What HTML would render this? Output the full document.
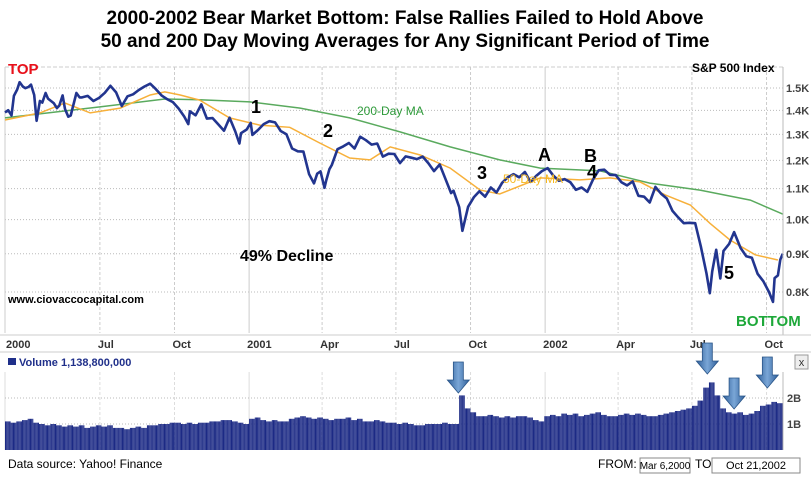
<!DOCTYPE html>
<html><head><meta charset="utf-8"><style>
html,body{margin:0;padding:0;background:#fff;}
body{width:811px;height:479px;overflow:hidden;font-family:"Liberation Sans",Arial,sans-serif;}
</style></head><body>
<svg id="c" width="811" height="479" xmlns="http://www.w3.org/2000/svg" font-family="Liberation Sans, Arial, sans-serif">
<defs>
<linearGradient id="ag" x1="0" x2="1" y1="0" y2="0"><stop offset="0" stop-color="#2f5f9a"/><stop offset="0.5" stop-color="#7aa6d6"/><stop offset="1" stop-color="#2f5f9a"/></linearGradient>
</defs>
<text x="405" y="24" text-anchor="middle" font-size="19" font-weight="bold">2000-2002 Bear Market Bottom:  False Rallies Failed to Hold Above</text>
<text x="405" y="47" text-anchor="middle" font-size="19" font-weight="bold">50 and 200 Day Moving Averages for Any Significant Period of Time</text>
<g id="grid"></g>
<g id="vol"></g>
<g id="lines"></g>
<g id="axes"></g>
<text x="8" y="74" font-size="15" font-weight="bold" fill="#e8101a">TOP</text>
<text x="692" y="72" font-size="12" font-weight="bold">S&amp;P 500 Index</text>
<g font-size="18" font-weight="bold">
<text x="251" y="113">1</text>
<text x="323" y="137">2</text>
<text x="477" y="179">3</text>
<text x="538" y="161">A</text>
<text x="584" y="162">B</text>
<text x="587" y="178">4</text>
<text x="724" y="279">5</text>
</g>
<text x="357" y="115" font-size="12" fill="#2e9a3a">200-Day MA</text>
<text x="503" y="183" font-size="12" fill="#f5b820">50-Day MA</text>
<text x="240" y="261" font-size="16" font-weight="bold">49% Decline</text>
<text x="8" y="303" font-size="11" font-weight="bold">www.ciovaccocapital.com</text>
<text x="736" y="326" font-size="15" font-weight="bold" fill="#1ea83a">BOTTOM</text>
<rect x="8" y="358" width="8" height="7" fill="#1f2f8a"/>
<text x="19" y="366" font-size="11" font-weight="bold" fill="#1f2f8a">Volume  1,138,800,000</text>
<g><rect x="795" y="355" width="13" height="14" fill="#eee" stroke="#999"/><text x="801.5" y="366" font-size="11" text-anchor="middle" fill="#333">x</text></g>
<g id="arrows"></g>
<text x="8" y="468" font-size="12">Data source:  Yahoo! Finance</text>
<text x="598" y="468" font-size="12">FROM:</text>
<g><rect x="640" y="458" width="50" height="15" fill="#fff" stroke="#888"/><text x="665" y="469" font-size="10" text-anchor="middle">Mar 6,2000</text></g>
<text x="695" y="468" font-size="12">TO:</text>
<g><rect x="712" y="458" width="88" height="15" fill="#fff" stroke="#888"/><text x="756" y="469" font-size="11" text-anchor="middle">Oct 21,2002</text></g>
</svg>
<script>
var priceDates=["2000-03-06","2000-03-10","2000-03-14","2000-03-17","2000-03-21","2000-03-24","2000-03-28","2000-03-31","2000-04-04","2000-04-07","2000-04-11","2000-04-14","2000-04-18","2000-04-21","2000-04-25","2000-04-28","2000-05-05","2000-05-09","2000-05-12","2000-05-16","2000-05-19","2000-05-23","2000-05-26","2000-06-02","2000-06-06","2000-06-09","2000-06-16","2000-06-23","2000-06-30","2000-07-07","2000-07-14","2000-07-21","2000-07-28","2000-08-04","2000-08-11","2000-08-18","2000-08-25","2000-09-01","2000-09-08","2000-09-15","2000-09-22","2000-09-29","2000-10-06","2000-10-13","2000-10-18","2000-10-20","2000-10-27","2000-11-03","2000-11-10","2000-11-17","2000-11-24","2000-12-01","2000-12-08","2000-12-15","2000-12-20","2000-12-22","2000-12-29","2001-01-03","2001-01-05","2001-01-12","2001-01-19","2001-01-26","2001-02-02","2001-02-09","2001-02-16","2001-02-23","2001-03-02","2001-03-09","2001-03-16","2001-03-22","2001-03-26","2001-03-30","2001-04-04","2001-04-06","2001-04-10","2001-04-13","2001-04-20","2001-04-27","2001-05-04","2001-05-11","2001-05-18","2001-05-25","2001-06-01","2001-06-08","2001-06-15","2001-06-22","2001-06-29","2001-07-06","2001-07-13","2001-07-20","2001-07-27","2001-08-03","2001-08-10","2001-08-17","2001-08-24","2001-08-31","2001-09-07","2001-09-10","2001-09-17","2001-09-21","2001-09-28","2001-10-05","2001-10-12","2001-10-19","2001-10-26","2001-11-02","2001-11-09","2001-11-16","2001-11-23","2001-11-30","2001-12-07","2001-12-14","2001-12-21","2001-12-28","2002-01-04","2002-01-11","2002-01-18","2002-01-25","2002-02-01","2002-02-08","2002-02-15","2002-02-22","2002-03-01","2002-03-08","2002-03-15","2002-03-22","2002-03-29","2002-04-05","2002-04-12","2002-04-19","2002-04-26","2002-05-03","2002-05-10","2002-05-17","2002-05-24","2002-05-31","2002-06-07","2002-06-14","2002-06-21","2002-06-28","2002-07-05","2002-07-12","2002-07-19","2002-07-23","2002-07-26","2002-07-31","2002-08-05","2002-08-09","2002-08-16","2002-08-22","2002-08-30","2002-09-06","2002-09-13","2002-09-20","2002-09-27","2002-10-04","2002-10-09","2002-10-11","2002-10-15","2002-10-18","2002-10-21"];
var priceValues=[1391,1401,1378,1464,1493,1527,1507,1499,1505,1516,1468,1356,1441,1434,1477,1452,1432,1410,1421,1466,1406,1373,1378,1477,1457,1457,1464,1441,1455,1478,1510,1480,1419,1462,1471,1491,1507,1520,1495,1466,1449,1436,1408,1374,1342,1396,1379,1426,1365,1367,1341,1315,1369,1312,1264,1305,1320,1347,1298,1318,1342,1354,1349,1314,1301,1245,1234,1233,1150,1118,1152,1160,1103,1128,1168,1183,1242,1253,1266,1245,1291,1277,1260,1264,1214,1225,1224,1190,1215,1210,1205,1214,1190,1161,1185,1134,1085,1093,1039,966,1040,1071,1091,1073,1104,1087,1120,1139,1150,1139,1158,1123,1144,1161,1172,1146,1127,1133,1122,1096,1104,1089,1131,1164,1166,1148,1147,1122,1111,1125,1076,1073,1054,1106,1083,1067,1027,1007,989,990,989,921,847,797,852,911,834,908,928,962,916,893,889,846,827,800,776,835,842,884,900];
var ma50Days=[0,43,74,105,142,179,197,216,240,277,314,351,388,425,450,475,512,549,586,610,660,709,746,783,814,845,869,894,925,953];
var ma50Values=[1359,1389,1432,1389,1410,1468,1482,1468,1445,1368,1338,1329,1266,1209,1202,1251,1220,1172,1095,1082,1137,1130,1137,1123,1079,1046,989,939,897,883];
var ma200Days=[0,117,197,240,302,364,425,487,549,610,660,734,795,857,919,959];
var ma200Values=[1368,1415,1450,1447,1437,1410,1368,1310,1251,1202,1172,1162,1119,1095,1062,1017];
var volumeStart="2000-03-06";
var volumeValues=[1.1,1.05,1.1,1.15,1.2,1.05,1.0,0.95,1.0,0.95,0.9,0.95,0.9,0.95,0.85,0.9,0.95,0.9,0.95,0.85,0.85,0.8,0.85,0.9,0.85,0.95,0.95,1.0,1.0,1.05,1.05,1.0,1.05,1.0,1.05,1.05,1.1,1.1,1.15,1.15,1.1,1.05,1.0,
1.2,1.25,1.15,1.1,1.15,1.1,1.1,1.2,1.25,1.3,1.25,1.2,1.25,1.2,1.15,1.2,1.2,1.25,1.15,1.2,1.1,1.1,1.15,1.1,1.05,1.05,1.0,1.05,1.0,0.95,0.95,1.0,1.0,1.0,1.05,1.0,1.0,2.1,1.6,1.45,1.3,1.3,1.35,1.3,1.25,1.3,1.25,1.3,1.3,1.25,1.15,1.1,
1.3,1.35,1.3,1.4,1.35,1.4,1.3,1.35,1.4,1.45,1.35,1.3,1.3,1.35,1.4,1.35,1.4,1.35,1.3,1.3,1.35,1.4,1.45,1.5,1.55,1.6,1.7,1.9,2.4,2.6,2.1,1.6,1.45,1.4,1.45,1.35,1.4,1.5,1.7,1.75,1.85,1.8,1.75];
var priceTicks=[1500,1400,1300,1200,1100,1000,900,800];
var priceTickLabels=["1.5K","1.4K","1.3K","1.2K","1.1K","1.0K","0.9K","0.8K"];
var monthTicks=["2000-03-06","2000-07-01","2000-10-01","2001-01-01","2001-04-01","2001-07-01","2001-10-01","2002-01-01","2002-04-01","2002-07-01","2002-10-01"];
var monthLabels=["2000","Jul","Oct","2001","Apr","Jul","Oct","2002","Apr","Jul","Oct"];
var volTicks=[2,1];
var volTickLabels=["2B","1B"];
var arrowDates=["2001-09-16","2002-07-20","2002-08-22","2002-10-02"];
var arrowTops=[362,343,378,357];

var NS="http://www.w3.org/2000/svg";
var T0=Date.UTC(2000,2,6);
function day(s){var p=s.split("-");return (Date.UTC(+p[0],+p[1]-1,+p[2])-T0)/86400000;}
function X(d){return 5+d*0.811;}
function Y(v){return 88+324.5*Math.log(1500/v);}
function VY(b){return 450-26*b;}
function mk(tag,attrs,parent){var e=document.createElementNS(NS,tag);for(var k in attrs)e.setAttribute(k,attrs[k]);parent.appendChild(e);return e;}
var grid=document.getElementById("grid"),axes=document.getElementById("axes"),lines=document.getElementById("lines"),vol=document.getElementById("vol"),arrows=document.getElementById("arrows");

var fr=mk("line",{x1:5,y1:67,x2:783,y2:67,stroke:"#ccc","stroke-dasharray":"4,2"},grid);


for(var i=0;i<priceTicks.length;i++){
  var y=Y(priceTicks[i]);
  var gl=mk("line",{x1:5,y1:y,x2:783,y2:y,stroke:"#bbb","stroke-dasharray":"1,2"},grid);
  
  
  var tl=mk("text",{x:786,y:y+4,"font-size":11,"font-weight":"bold",fill:"#444"},axes);
  tl.textContent=priceTickLabels[i];
  
  
}
for(var i=0;i<monthTicks.length;i++){
  var x=X(day(monthTicks[i]));
  var yr=monthLabels[i].length==4;
  var v1=mk("line",{x1:x,y1:67,x2:x,y2:333,stroke:"#ccc","stroke-dasharray":yr?"none":"3,2"},grid);
  
  
  var v2=mk("line",{x1:x,y1:372,x2:x,y2:450,stroke:"#ddd","stroke-dasharray":yr?"none":"3,2"},grid);
  
  
  var ml=mk("text",{x:i==0?6:x-2,y:348,"font-size":11,"font-weight":"bold",fill:"#333"},axes);
  ml.textContent=monthLabels[i];
  
  
}
var ax1=mk("line",{x1:783,y1:67,x2:783,y2:335,stroke:"#bbb"},axes);


var ax2=mk("line",{x1:0,y1:335,x2:811,y2:335,stroke:"#ccc"},axes);


var ax3=mk("line",{x1:0,y1:352,x2:811,y2:352,stroke:"#ccc"},axes);


var ax4=mk("line",{x1:783,y1:372,x2:783,y2:450,stroke:"#bbb"},axes);


for(var i=0;i<volTicks.length;i++){
  var y=VY(volTicks[i]);
  var vg=mk("line",{x1:5,y1:y,x2:783,y2:y,stroke:"#bbb","stroke-dasharray":"1,2"},grid);
  
  
  var vt=mk("text",{x:787,y:y+4,"font-size":11,"font-weight":"bold",fill:"#444"},axes);
  vt.textContent=volTickLabels[i];
  
  
}
var vs=day(volumeStart);
for(var i=0;i<volumeValues.length;i++){
  for(var k=0;k<5;k++){
    var x0=X(vs+i*7+k*1.4);
    if(x0>782)continue;
    var b=mk("rect",{x:x0,y:VY(volumeValues[i]),width:1.05,height:26*volumeValues[i],fill:"#1c2a85"},vol);
    
    
  }
}
function path(xs,ys){var d="";for(var i=0;i<xs.length;i++)d+=(i?"L":"M")+X(xs[i]).toFixed(1)+","+Y(ys[i]).toFixed(1);return d;}
var m2=mk("path",{d:path(ma200Days,ma200Values),fill:"none",stroke:"#5aaa5e","stroke-width":1.5},lines);


var m5=mk("path",{d:path(ma50Days,ma50Values),fill:"none",stroke:"#f7b03a","stroke-width":1.5},lines);


var pd=priceDates.map(day);
var pl=mk("path",{d:path(pd,priceValues),fill:"none",stroke:"#22358f","stroke-width":2.6,"stroke-linejoin":"round"},lines);


for(var i=0;i<arrowDates.length;i++){
  var cx=X(day(arrowDates[i])),t=arrowTops[i];
  var a=mk("path",{d:"M"+(cx-5)+","+t+"h10v18h6l-11,13l-11,-13h6z",fill:"url(#ag)",stroke:"#2a5588","stroke-width":0.8},arrows);
  
  
}
</script>
</body></html>
